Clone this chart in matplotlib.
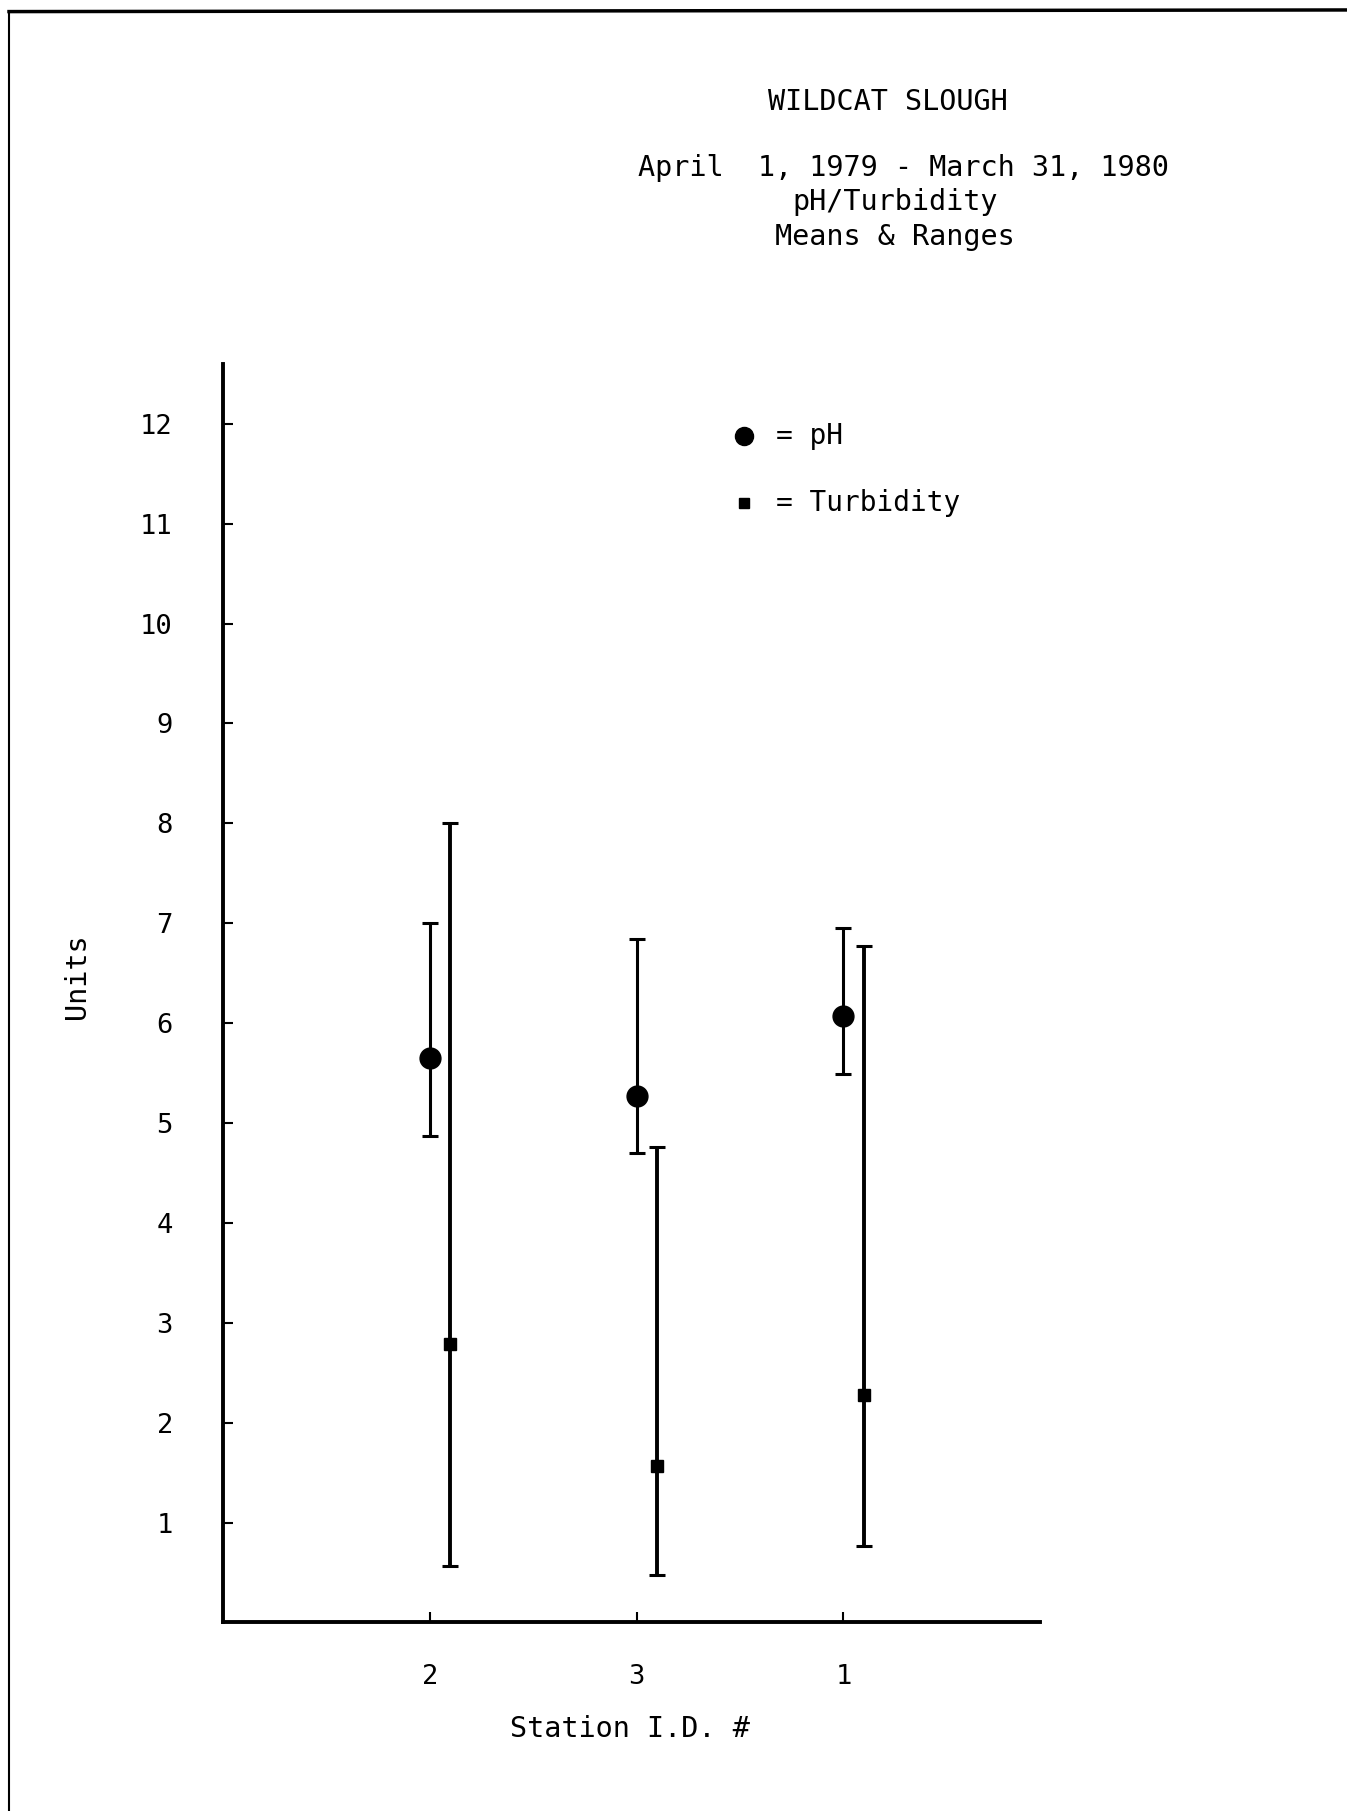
import numpy as np
import matplotlib.pyplot as plt
from matplotlib.lines import Line2D

plt.rcParams['font.family'] = ['DejaVu Sans Mono']

stations = ['2', '3', '1']
ph_mean = [5.65, 5.27, 6.07]
ph_low = [4.87, 4.70, 5.49]
ph_high = [7.00, 6.84, 6.95]
turb_mean = [2.79, 1.57, 2.28]
turb_low = [0.57, 0.48, 0.77]
turb_high = [8.00, 4.76, 6.77]
yticks = list(range(1, 13))

x = np.arange(1, len(stations) + 1)
ph_err = [np.array(ph_mean) - np.array(ph_low), np.array(ph_high) - np.array(ph_mean)]
turb_err = [np.array(turb_mean) - np.array(turb_low), np.array(turb_high) - np.array(turb_mean)]

fig = plt.figure(figsize=(13.47, 18.11), dpi=100)
ax = fig.add_axes([0.1655, 0.1041, 0.6065, 0.695])

ax.errorbar(x, ph_mean, yerr=ph_err, fmt='o', color='black', ms=15,
            elinewidth=2.2, capsize=6, capthick=2.2)
ax.errorbar(x + 0.1, turb_mean, yerr=turb_err, fmt='s', color='black', ms=9,
            elinewidth=2.8, capsize=6, capthick=2.2)

ax.set_xlim(0, 3.95)
ax.set_ylim(0, 12.6)
ax.set_xticks(x)
ax.set_xticklabels(stations)
ax.set_yticks(yticks)
ax.tick_params(axis='both', direction='in', length=7, width=1.5, labelsize=19.5)
ax.tick_params(axis='y', pad=36)
ax.tick_params(axis='x', pad=30)
for s in ['top', 'right']:
    ax.spines[s].set_visible(False)
for s in ['left', 'bottom']:
    ax.spines[s].set_linewidth(2.8)

# legend drawn as text inside the axes
ax.plot([2.52], [11.88], 'o', color='black', ms=13)
ax.text(2.676, 11.88, '= pH', fontsize=20, va='center', ha='left')
ax.plot([2.52], [11.21], 's', color='black', ms=7)
ax.text(2.676, 11.21, '= Turbidity', fontsize=20, va='center', ha='left')

fig.text(0.659, 0.9438, 'WILDCAT SLOUGH', fontsize=20.5, ha='center', va='center')
fig.text(0.6706, 0.9075, 'April  1, 1979 - March 31, 1980', fontsize=20.5, ha='center', va='center')
fig.text(0.6647, 0.8884, 'pH/Turbidity', fontsize=20.5, ha='center', va='center')
fig.text(0.6647, 0.8692, 'Means & Ranges', fontsize=20.5, ha='center', va='center')
fig.text(0.057, 0.461, 'Units', fontsize=20.5, ha='center', va='center', rotation=90)
fig.text(0.4675, 0.0453, 'Station I.D. #', fontsize=20.5, ha='center', va='center')

# scanned page border
fig.add_artist(Line2D([0.0067, 1.0], [0.9936, 0.9945], transform=fig.transFigure,
                      color='black', lw=2.5))
fig.add_artist(Line2D([0.0067, 0.0067], [0.0, 0.9936], transform=fig.transFigure,
                      color='black', lw=1.5))

fig.savefig('out.png', dpi=100)
